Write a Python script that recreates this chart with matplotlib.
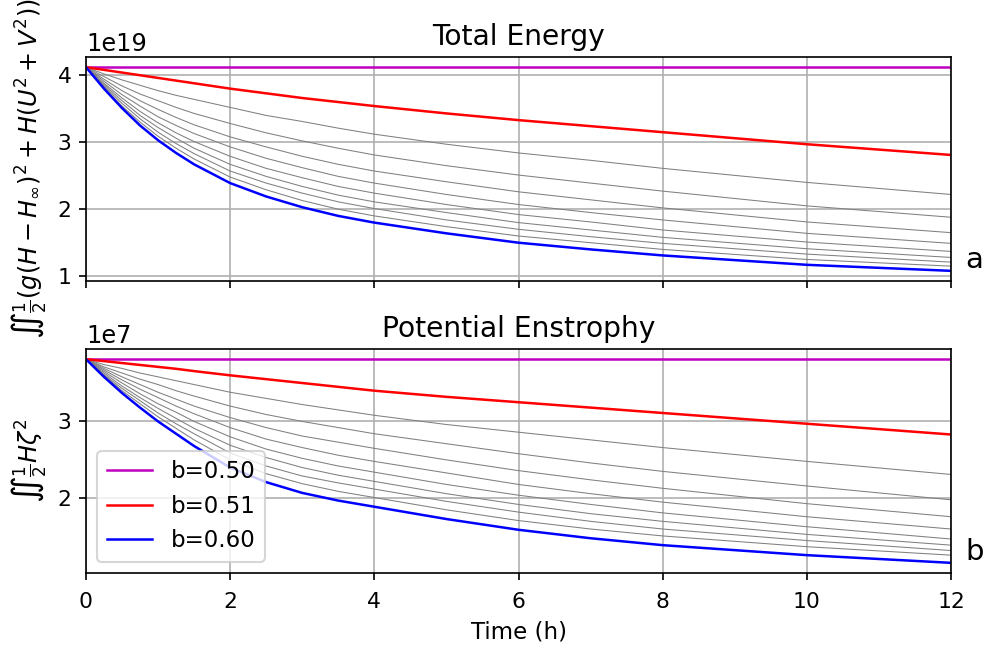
import numpy as np
import matplotlib
matplotlib.use('Agg')
import matplotlib.pyplot as plt

# tiempos de muestreo (h)
t = [0, 0.25, 0.5, 0.75, 1, 1.25, 1.5, 2, 2.5, 3, 3.5, 4, 5, 6, 7, 8, 10, 12]

# energia total (unidades de 1e19)
en_050 = [4.12] * len(t)
en_051 = [4.12, 4.08, 4.04, 4.00, 3.96, 3.92, 3.88, 3.80, 3.73, 3.66, 3.60, 3.54, 3.43, 3.33, 3.24, 3.15, 2.97, 2.81]
en_060 = [4.12, 3.80, 3.51, 3.25, 3.03, 2.84, 2.67, 2.39, 2.19, 2.03, 1.90, 1.80, 1.64, 1.50, 1.40, 1.31, 1.17, 1.08]
en_gris = [
    [4.12, 4.02, 3.93, 3.85, 3.77, 3.70, 3.64, 3.52, 3.40, 3.31, 3.21, 3.12, 2.97, 2.84, 2.73, 2.61, 2.40, 2.22],
    [4.12, 3.98, 3.84, 3.72, 3.62, 3.52, 3.43, 3.28, 3.14, 3.02, 2.91, 2.81, 2.65, 2.51, 2.39, 2.27, 2.05, 1.88],
    [4.12, 3.94, 3.77, 3.62, 3.49, 3.37, 3.26, 3.08, 2.93, 2.79, 2.67, 2.57, 2.41, 2.26, 2.14, 2.02, 1.81, 1.65],
    [4.12, 3.91, 3.71, 3.54, 3.38, 3.25, 3.13, 2.93, 2.76, 2.62, 2.49, 2.39, 2.22, 2.07, 1.95, 1.84, 1.64, 1.49],
    [4.12, 3.88, 3.66, 3.46, 3.29, 3.14, 3.01, 2.79, 2.61, 2.47, 2.34, 2.24, 2.07, 1.92, 1.81, 1.69, 1.51, 1.37],
    [4.12, 3.86, 3.62, 3.40, 3.22, 3.06, 2.91, 2.67, 2.49, 2.34, 2.21, 2.11, 1.95, 1.80, 1.69, 1.58, 1.41, 1.28],
    [4.12, 3.84, 3.58, 3.35, 3.15, 2.98, 2.83, 2.57, 2.39, 2.24, 2.11, 2.01, 1.84, 1.70, 1.59, 1.49, 1.33, 1.21],
    [4.12, 3.82, 3.54, 3.30, 3.09, 2.91, 2.75, 2.48, 2.29, 2.13, 2.00, 1.90, 1.74, 1.60, 1.50, 1.40, 1.25, 1.15],
]

# enstrofia potencial (unidades de 1e7)
ens_050 = [3.81] * len(t)
ens_051 = [3.81, 3.785, 3.76, 3.735, 3.71, 3.685, 3.655, 3.60, 3.55, 3.50, 3.45, 3.40, 3.32, 3.25, 3.18, 3.11, 2.97, 2.83]
ens_060 = [3.81, 3.58, 3.37, 3.18, 3.00, 2.84, 2.68, 2.40, 2.21, 2.07, 1.97, 1.89, 1.73, 1.59, 1.48, 1.39, 1.26, 1.16]
ens_gris = [
    [3.81, 3.74, 3.69, 3.63, 3.58, 3.53, 3.48, 3.38, 3.30, 3.22, 3.15, 3.08, 2.96, 2.86, 2.76, 2.66, 2.48, 2.31],
    [3.81, 3.71, 3.63, 3.55, 3.48, 3.40, 3.33, 3.20, 3.09, 3.00, 2.92, 2.84, 2.71, 2.58, 2.46, 2.35, 2.16, 1.98],
    [3.81, 3.69, 3.58, 3.48, 3.38, 3.29, 3.20, 3.05, 2.92, 2.81, 2.73, 2.65, 2.50, 2.36, 2.24, 2.13, 1.93, 1.76],
    [3.81, 3.67, 3.54, 3.42, 3.31, 3.20, 3.10, 2.92, 2.77, 2.66, 2.56, 2.48, 2.33, 2.18, 2.06, 1.95, 1.76, 1.60],
    [3.81, 3.65, 3.50, 3.36, 3.23, 3.12, 3.00, 2.80, 2.64, 2.52, 2.42, 2.34, 2.18, 2.04, 1.92, 1.81, 1.63, 1.47],
    [3.81, 3.63, 3.46, 3.31, 3.17, 3.04, 2.91, 2.69, 2.53, 2.40, 2.30, 2.22, 2.06, 1.92, 1.80, 1.70, 1.53, 1.39],
    [3.81, 3.61, 3.43, 3.27, 3.11, 2.97, 2.84, 2.59, 2.42, 2.29, 2.20, 2.12, 1.96, 1.82, 1.70, 1.60, 1.45, 1.32],
    [3.81, 3.60, 3.40, 3.23, 3.06, 2.91, 2.76, 2.50, 2.32, 2.19, 2.09, 2.01, 1.85, 1.71, 1.60, 1.51, 1.37, 1.26],
]

etiquetas = ['b=0.50', 'b=0.51', 'b=0.60']

# figura a 150 dpi: 988x645 px
fig = plt.figure(figsize=(988 / 150, 645 / 150), dpi=150)
ax1 = fig.add_axes([0.087, 0.5643, 0.8756, 0.3473])
ax2 = fig.add_axes([0.087, 0.1116, 0.8756, 0.3473], sharex=ax1)


def graficar(ax, gris, c050, c051, c060, escala):
    for g in gris:
        ax.plot(t, np.array(g) * escala, color='gray', linewidth=0.5)
    ax.plot(t, np.array(c050) * escala, color='m', linewidth=1.2, label=etiquetas[0])
    ax.plot(t, np.array(c051) * escala, color='r', linewidth=1.2, label=etiquetas[1])
    ax.plot(t, np.array(c060) * escala, color='b', linewidth=1.2, label=etiquetas[2])
    ax.grid(True)
    ax.tick_params(labelsize=10.5)
    ax.tick_params(axis='x', pad=5.5)
    ax.yaxis.get_offset_text().set_fontsize(11.5)


graficar(ax1, en_gris, en_050, en_051, en_060, 1e19)
graficar(ax2, ens_gris, ens_050, ens_051, ens_060, 1e7)

ax1.set_xlim(0, 12)
ax1.set_xticks([0, 2, 4, 6, 8, 10, 12])
ax1.set_yticks([1e19, 2e19, 3e19, 4e19])
ax2.set_yticks([2e7, 3e7])
plt.setp(ax1.get_xticklabels(), visible=False)

ax1.set_title('Total Energy', fontsize=13.5)
ax2.set_title('Potential Enstrophy', fontsize=13.5)
ax1.set_ylabel(r'$\iint\frac{1}{2}(g(H-H_\infty)^2+H(U^2+V^2))$', fontsize=11.5)
ax2.set_ylabel(r'$\iint\frac{1}{2}H\zeta^2$', fontsize=11.5)
ax2.set_xlabel('Time (h)', fontsize=11)

ax1.text(1.016, 0.06, 'a', transform=ax1.transAxes, fontsize=14)
ax2.text(1.016, 0.06, 'b', transform=ax2.transAxes, fontsize=14)

ax2.legend(loc='lower left', fontsize=11)

fig.savefig('out.png', dpi=150)
